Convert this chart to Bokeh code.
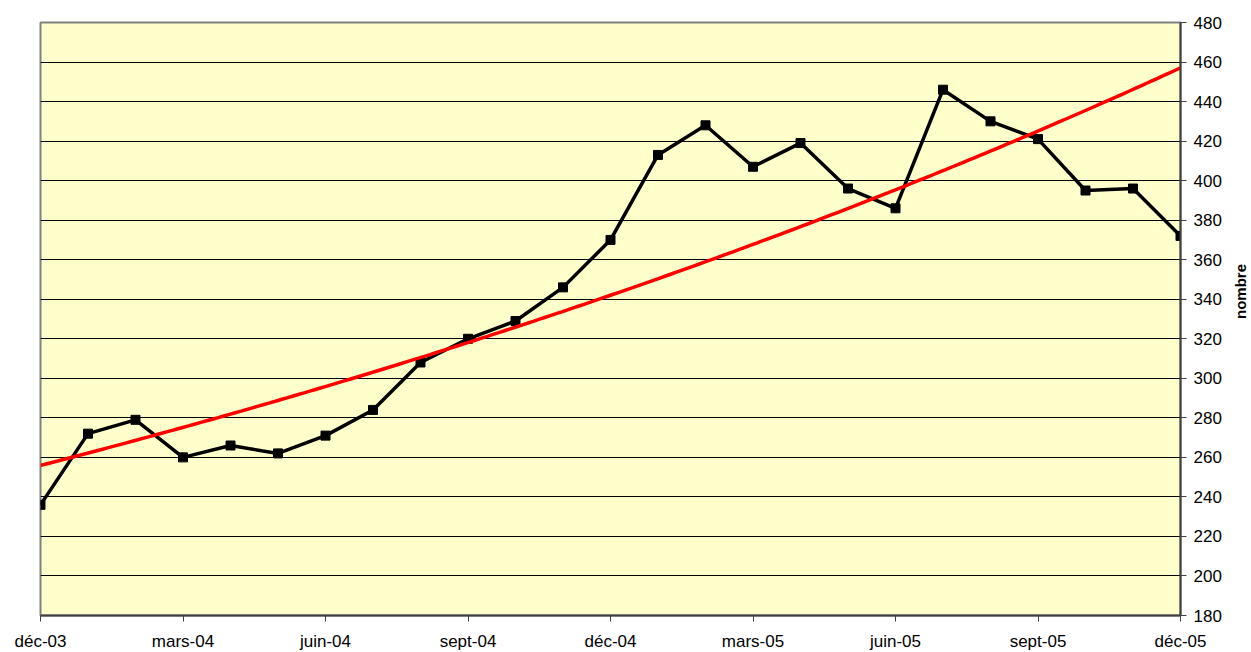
import math
import numpy as np
from bokeh.plotting import figure
from bokeh.models import Range1d, FixedTicker, ColumnDataSource
from bokeh.embed import file_html
from bokeh.resources import INLINE

# Monthly series, déc-03 .. déc-05 (index 0..24)
month_index = list(range(25))
values = [236, 272, 279, 260, 266, 262, 271, 284, 308, 320, 329, 346, 370,
          413, 428, 407, 419, 396, 386, 446, 430, 421, 395, 396, 372]

tick_positions = [0, 3, 6, 9, 12, 15, 18, 21, 24]
tick_labels = ["déc-03", "mars-04", "juin-04", "sept-04", "déc-04",
               "mars-05", "juin-05", "sept-05", "déc-05"]
y_ticks = list(range(180, 481, 20))
y_title = "nombre"

# Exponential trend line (least squares on log values, like a spreadsheet trendline)
b, a = np.polyfit(month_index, np.log(values), 1)
trend_x = np.linspace(month_index[0], month_index[-1], 200)
trend_y = np.exp(a + b * trend_x)

FONT = "Liberation Sans"

p = figure(frame_width=1140, frame_height=593,
           x_range=Range1d(month_index[0], month_index[-1]),
           y_range=Range1d(y_ticks[0], y_ticks[-1]),
           output_backend="svg", toolbar_location=None,
           y_axis_location="right",
           min_border_left=40, min_border_top=22,
           min_border_right=0, min_border_bottom=0,
           background_fill_color="#FFFFCC", border_fill_color="white")

p.outline_line_color = "#808080"
p.outline_line_width = 2

# grid
p.xgrid.visible = False
p.ygrid.ticker = FixedTicker(ticks=y_ticks)
p.ygrid.grid_line_color = "black"
p.ygrid.grid_line_width = 1

# x axis
xa = p.xaxis[0]
xa.ticker = FixedTicker(ticks=tick_positions)
xa.major_label_overrides = dict(zip(tick_positions, tick_labels))
xa.minor_tick_line_color = None
xa.major_tick_in = 0
xa.major_tick_out = 6
xa.major_tick_line_color = "#404040"
xa.major_tick_line_width = 1
xa.axis_line_color = "#404040"
xa.axis_line_width = 2
xa.major_label_text_font = FONT
xa.major_label_text_font_size = "17px"
xa.major_label_text_color = "black"
xa.major_label_standoff = 10

# y axis (right)
ya = p.yaxis[0]
ya.ticker = FixedTicker(ticks=y_ticks)
ya.minor_tick_line_color = None
ya.major_tick_in = 0
ya.major_tick_out = 6
ya.major_tick_line_color = "#404040"
ya.axis_line_color = "#404040"
ya.axis_line_width = 2
ya.major_label_text_font = FONT
ya.major_label_text_font_size = "17px"
ya.major_label_text_color = "black"
ya.major_label_standoff = 7
ya.axis_label = y_title
ya.axis_label_text_font = FONT
ya.axis_label_text_font_size = "15px"
ya.axis_label_text_font_style = "bold"
ya.axis_label_text_color = "black"
ya.axis_label_text_align = "center"
ya.axis_label_standoff = 16
ya.axis_label_orientation = math.pi / 2

src = ColumnDataSource(dict(x=month_index, y=values))
p.line("x", "y", source=src, line_color="black", line_width=3.5)
p.scatter("x", "y", source=src, marker="square", size=9,
          fill_color="black", line_color="black")

tsrc = ColumnDataSource(dict(x=trend_x, y=trend_y))
p.line("x", "y", source=tsrc, line_color="#FF0000", line_width=3.5)

open("out.html", "w").write(file_html(p, INLINE))
